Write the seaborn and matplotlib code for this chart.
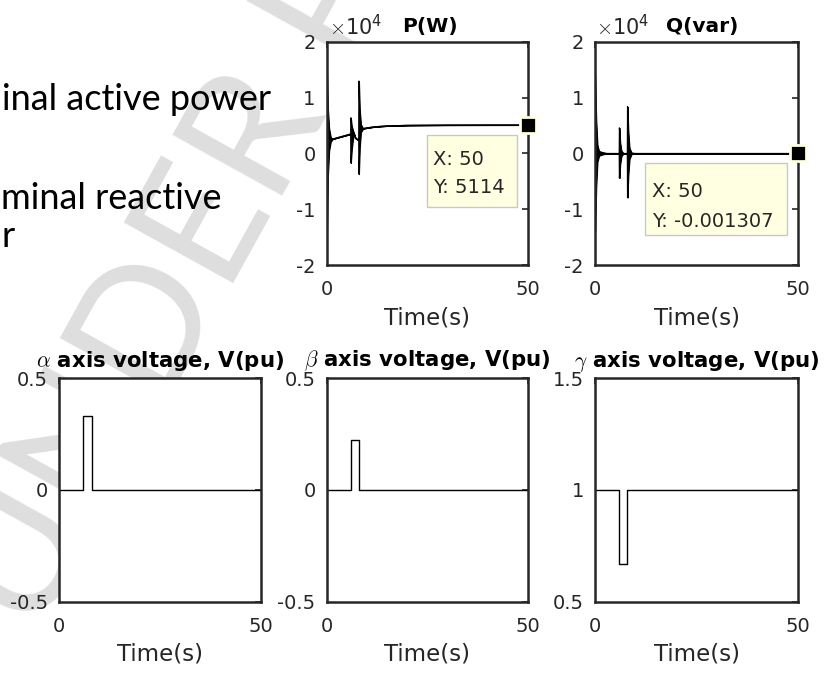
import matplotlib
matplotlib.use('Agg')
import matplotlib.pyplot as plt
from matplotlib.patches import Rectangle
from matplotlib.ticker import FuncFormatter
import seaborn as sns

# Data
# P(W): envelope of the fast oscillations (upper / lower), equal where the trace is calm
p_time = [0, 0.05, 0.3, 0.6, 1.0, 1.5, 3, 5.5, 5.95, 6.0, 6.2, 6.5, 6.8, 7.2, 7.6, 7.95,
          8.0, 8.2, 8.5, 9.0, 10, 12, 15, 20, 30, 40, 50]
p_upper = [16000, 15000, 8000, 4500, 2900, 2600, 2900, 3400, 3500, 6400, 5000, 4200, 3600,
           2700, 2500, 2700, 13000, 8000, 5200, 4500, 4600, 4800, 4950, 5050, 5100, 5110, 5114]
p_lower = [-15000, -14000, -4000, 500, 2100, 2600, 2900, 3400, 3500, -1700, 500, 2500, 3400,
           2700, 2500, 2700, -3700, 1000, 3800, 4400, 4600, 4800, 4950, 5050, 5100, 5110, 5114]

# Q(var)
q_time = [0, 0.05, 0.3, 0.6, 1.0, 1.5, 2.0, 3.0, 5.95, 6.0, 6.2, 6.5, 7.0, 7.95,
          8.0, 8.2, 8.5, 9.0, 10, 50]
q_upper = [14500, 13500, 6000, 1500, 400, 250, 150, 0, 0, 4600, 2000, 500, 0, 0,
           8400, 4000, 1000, 100, 0, 0]
q_lower = [-14000, -13500, -6000, -1500, -400, -250, -150, 0, 0, -4400, -2000, -500, 0, 0,
           -7900, -4000, -1000, -100, 0, 0]

# axis voltages (pu), step changes
v_time = [0, 6, 8, 50]
v_alpha = [0, 0.333, 0, 0]
v_beta = [0, 0.222, 0, 0]
v_gamma = [1, 0.667, 1, 1]

cursor_x = 50
cursor_p = 5114
cursor_q = -0.001307

sns.set_theme(style='white')
plt.rcParams['font.family'] = ['DejaVu Sans']
plt.rcParams['mathtext.fontset'] = 'cm'
plt.rcParams['axes.unicode_minus'] = False

fig = plt.figure(figsize=(8.24, 6.75), dpi=100)
fig.patch.set_facecolor('white')

# watermark behind the axes
fig.text(0.044, 0.053, 'UNDER PEER REVIEW', rotation=61, rotation_mode='anchor',
         family='Lato', fontweight='normal', fontsize=125, color='#dedede',
         ha='left', va='baseline', zorder=-10)

# slide text showing at the left
slide_font = dict(family='Lato', fontsize=26, color='black', zorder=5)
fig.text(2 / 824, 1 - 110 / 675, 'inal active power', **slide_font)
fig.text(1 / 824, 1 - 209 / 675, 'minal reactive', **slide_font)
fig.text(1 / 824, 1 - 247 / 675, 'r', **slide_font)

ink = '#262626'


def style_axes(ax, yticks, ylim, fmt=None):
    ax.set_facecolor('white')
    ax.set_xlim(0, 50)
    ax.set_ylim(*ylim)
    ax.set_xticks([0, 50])
    ax.set_yticks(yticks)
    if fmt is not None:
        ax.yaxis.set_major_formatter(fmt)
    for sp in ax.spines.values():
        sp.set_visible(True)
        sp.set_color(ink)
        sp.set_linewidth(1.8)
    ax.tick_params(direction='in', length=4, width=1.2, color=ink, top=True, right=True,
                   labelsize=14, labelcolor=ink)
    ax.tick_params(axis='x', pad=11)
    ax.tick_params(axis='y', pad=8)
    ax.set_xlabel('Time(s)', fontsize=16.5, color=ink, labelpad=5)
    ax.set_ylabel('')


def envelope(ax, t, hi, lo):
    ax.fill_between(t, lo, hi, color='black', linewidth=0.8)
    sns.lineplot(x=t, y=hi, ax=ax, color='black', linewidth=0.8, estimator=None, sort=False)
    sns.lineplot(x=t, y=lo, ax=ax, color='black', linewidth=0.8, estimator=None, sort=False)


def cursor_box(ax, box, lines):
    x0, y0, x1, y1 = box
    ax.add_patch(Rectangle((x0, y0), x1 - x0, y1 - y0, transform=ax.transAxes,
                           facecolor='#ffffe1', edgecolor='#c8c8c8', linewidth=1,
                           clip_on=False, zorder=5))
    for (tx, ty, s) in lines:
        ax.text(tx, ty, s, transform=ax.transAxes, fontsize=14, color=ink,
                ha='left', va='baseline', zorder=6)


e4 = FuncFormatter(lambda v, pos: f'{v / 1e4:g}')
exp_label = r'$\times\mathdefault{10^{4}}$'

# P(W)
ax_p = fig.add_axes([0.3965, 0.6074, 0.2443, 0.3304])
envelope(ax_p, p_time, p_upper, p_lower)
ax_p.plot([cursor_x], [cursor_p], marker='s', ms=11, mfc='black', mec='#ffffe1', mew=2,
          clip_on=False, zorder=7)
style_axes(ax_p, [-20000, -10000, 0, 10000, 20000], (-20000, 20000), e4)
ax_p.set_title('P(W)', fontsize=14.5, fontweight='bold', color='black', x=0.515, pad=7.4)
ax_p.text(0.012, 1.031, exp_label, transform=ax_p.transAxes, fontsize=15, color=ink,
          ha='left', va='baseline')
cursor_box(ax_p, (0.497, 0.26, 0.945, 0.583),
           [(0.528, 0.448, f'X: {cursor_x}'), (0.528, 0.321, f'Y: {cursor_p}')])

# Q(var)
ax_q = fig.add_axes([0.7221, 0.6074, 0.2464, 0.3304])
envelope(ax_q, q_time, q_upper, q_lower)
ax_q.plot([cursor_x], [cursor_q], marker='s', ms=11, mfc='black', mec='#ffffe1', mew=2,
          clip_on=False, zorder=7)
style_axes(ax_q, [-20000, -10000, 0, 10000, 20000], (-20000, 20000), e4)
ax_q.set_title('Q(var)', fontsize=14.5, fontweight='bold', color='black', x=0.53, pad=7.4)
ax_q.text(0.004, 1.031, exp_label, transform=ax_q.transAxes, fontsize=15, color=ink,
          ha='left', va='baseline')
cursor_box(ax_q, (0.246, 0.135, 0.944, 0.457),
           [(0.279, 0.306, f'X: {cursor_x}'), (0.279, 0.172, f'Y: {cursor_q}')])

# voltages
volt_fmt = FuncFormatter(lambda v, pos: f'{v:g}')
for left, width, vals, greek, ticks in [
        (0.0720, 0.2443, v_alpha, r'$\alpha$', [-0.5, 0, 0.5]),
        (0.3965, 0.2443, v_beta, r'$\beta$', [-0.5, 0, 0.5]),
        (0.7221, 0.2464, v_gamma, r'$\gamma$', [0.5, 1, 1.5])]:
    ax = fig.add_axes([left, 0.1086, width, 0.3310])
    sns.lineplot(x=v_time, y=vals, ax=ax, color='black', linewidth=1.0,
                 drawstyle='steps-post', estimator=None, sort=False)
    style_axes(ax, ticks, (ticks[0], ticks[-1]), volt_fmt)
    ax.set_title(greek + ' axis voltage, V(pu)', fontsize=15.3, fontweight='bold',
                 color='black', pad=8.4)

fig.savefig('out.png', dpi=100)
